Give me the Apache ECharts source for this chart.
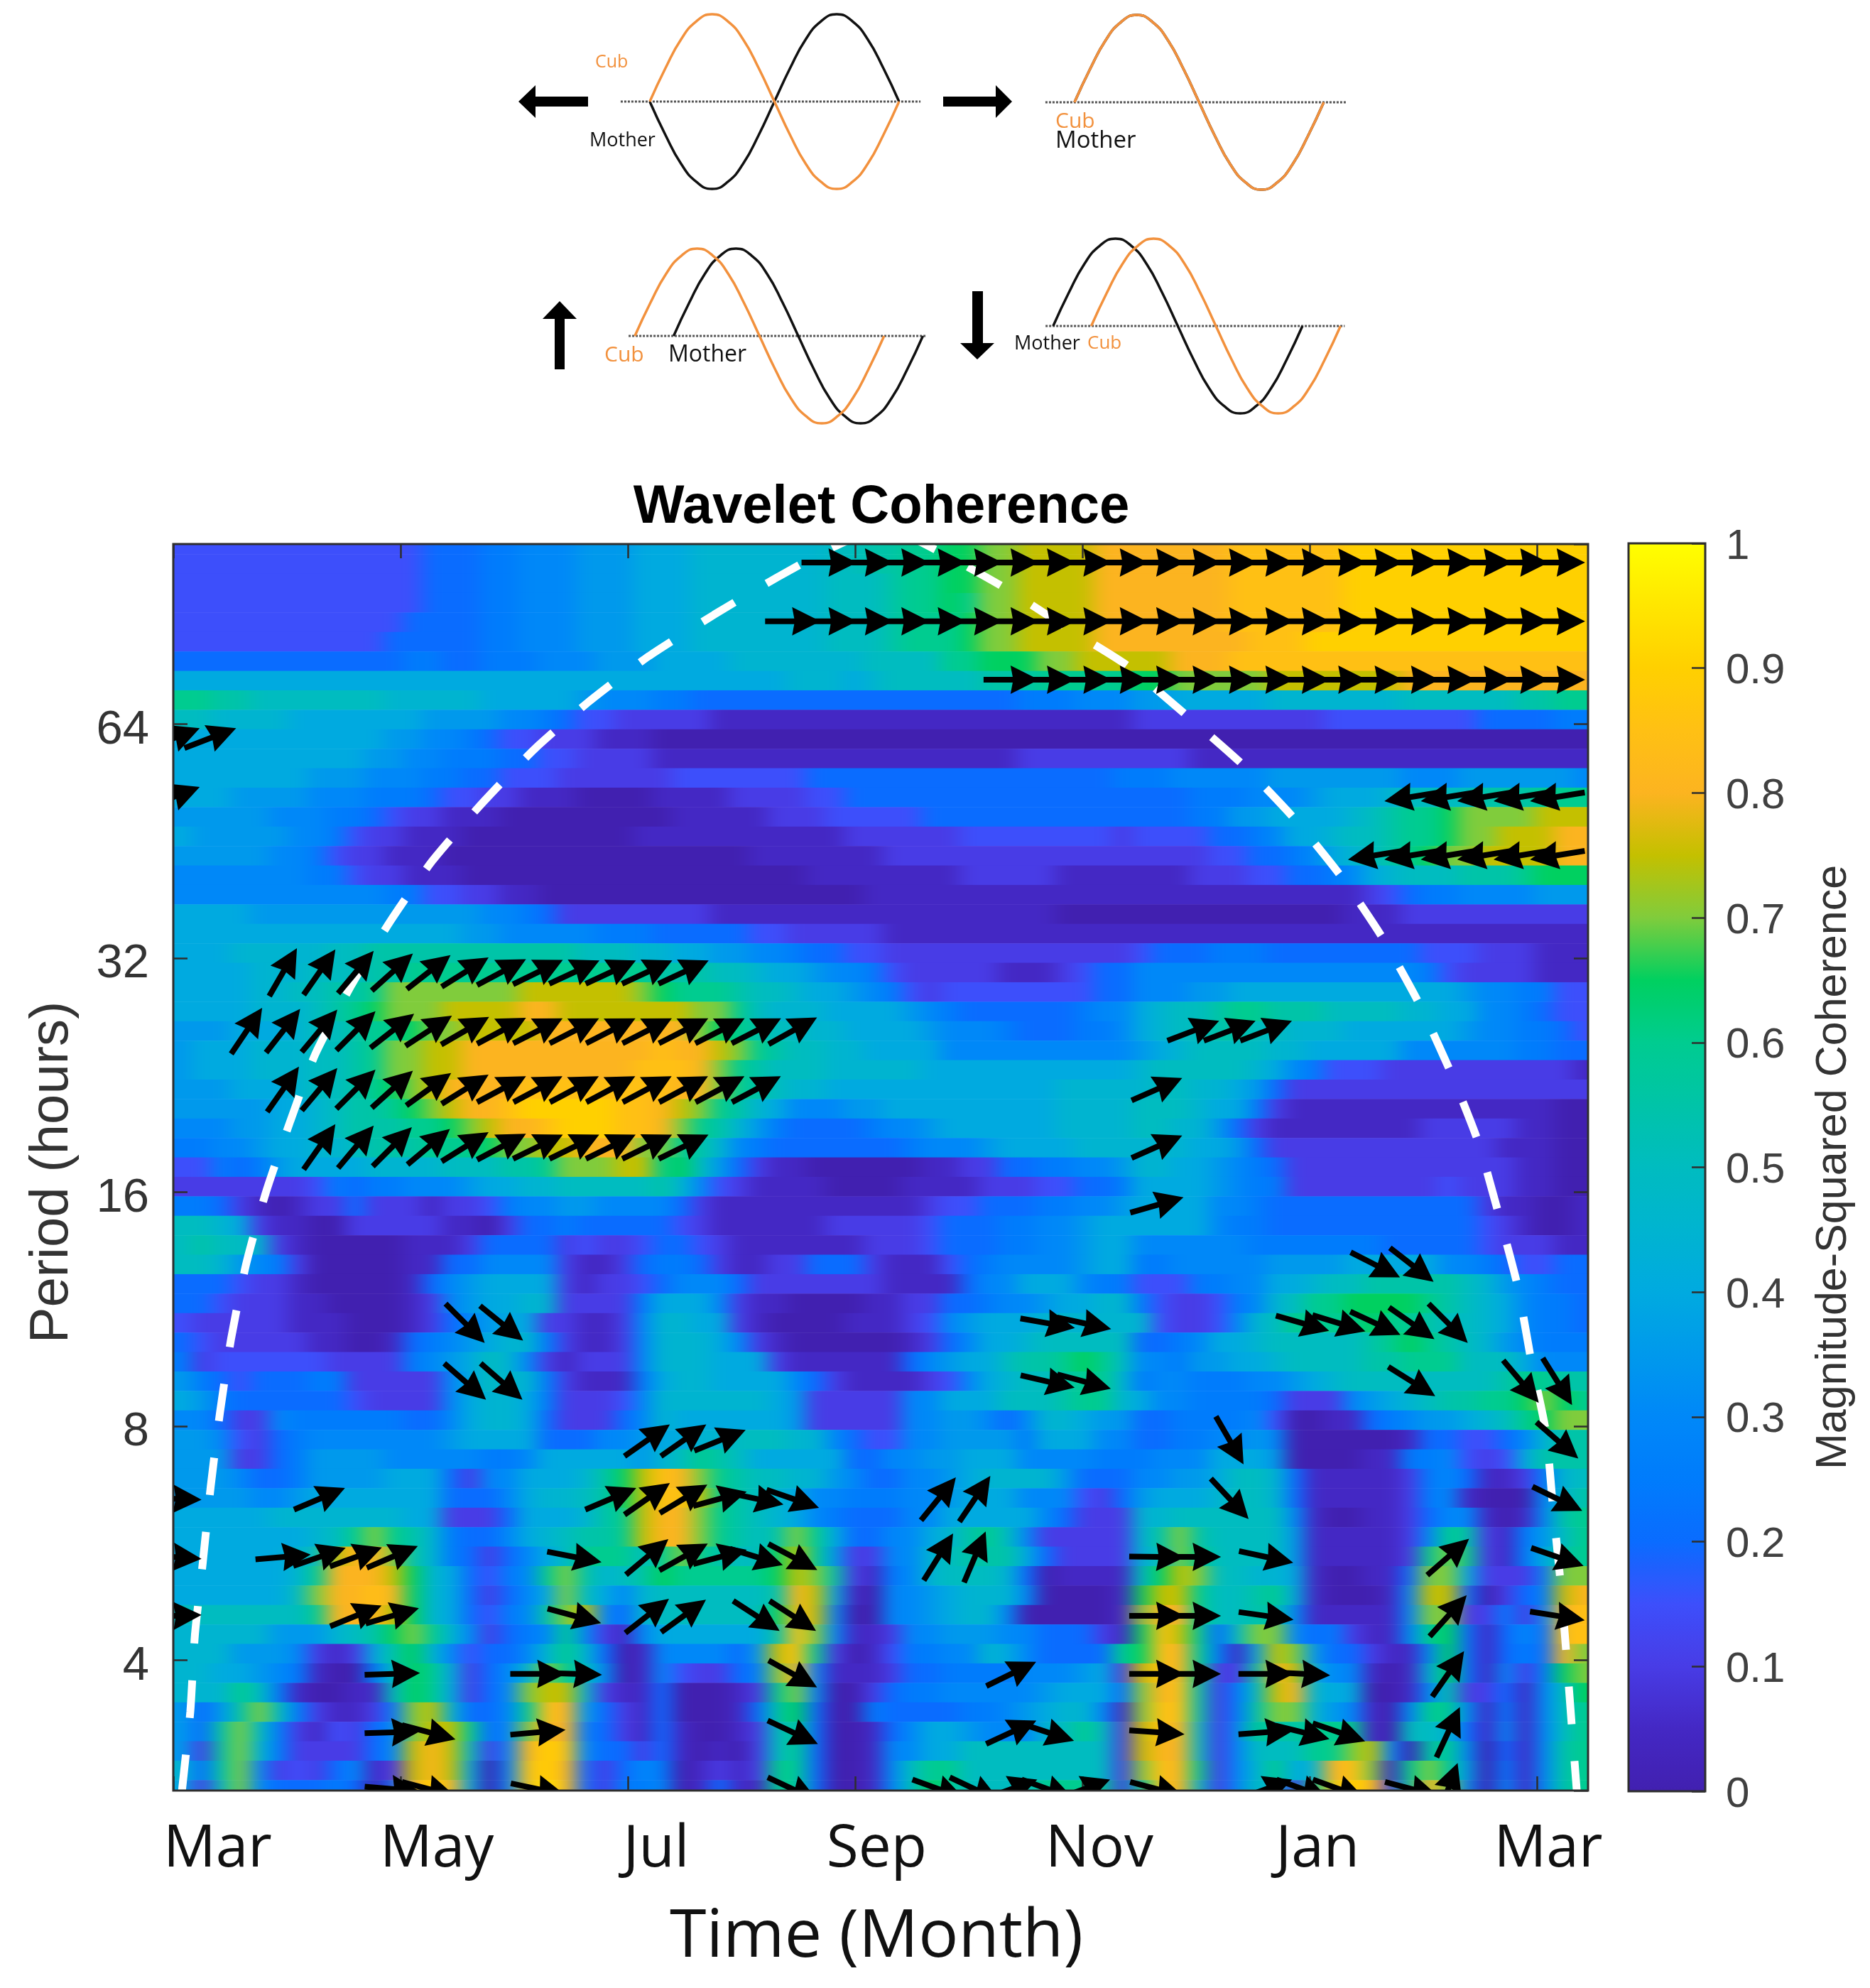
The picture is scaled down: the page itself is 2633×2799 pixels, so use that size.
<!DOCTYPE html>
<html><head><meta charset="utf-8">
<style>html,body{margin:0;padding:0;background:#fff}#c{width:2633px;height:2799px}</style>
<script src="https://cdn.jsdelivr.net/npm/echarts@6/dist/echarts.min.js"></script>
</head><body>
<svg width="0" height="0" style="position:absolute"><filter id="hb" x="0" y="0" width="100%" height="100%" color-interpolation-filters="sRGB"><feGaussianBlur stdDeviation="14 0"/></filter></svg>
<div id="c"></div>
<script>
// Coherence matrix: one text row per period band (top to bottom), one character per time column.
// 0-9 = tenths, a-j = tenths + 0.05
const coherenceRows = [
"bbbbbbbbbb bbb222cc33 3ddd444eee eeee55ff66 gg77hhhh88 88888iiiii i999999999 9999",
"bbbbbbbbbb bbb222cc33 3ddd444eee eeee55ff66 gg77hhhh88 88888iiiii i999999999 9999",
"bbbbbbbbbb bbb222cc33 3ddd444eee eeee555f66 gg77hhhh88 88888iiiii i999999999 9999",
"bbbbbbbbbb bbb222cc33 3ddd444eee eeee555f66 g677hhhh88 88888iiiii i999999999 9999",
"bbbbbbbbbb bb2222cc33 3ddd444eee eeee555f66 6g77hhhh88 88888iiiii i999999999 9999",
"bbbbbbbbbb b22222cc33 3ddd444eee eeee555f66 6g77hhhh88 888888iii9 9999999999 9999",
"2222222222 22cc22ccc3 33ddd4444e eeeeee5555 66ggg77hhh hh888iiiii iiiiiiiiii iiii",
"4444444444 4444444444 4444444444 44eee4e555 55fff66666 gg77777hhh hhhh888888 8888",
"66ff555555 5eeeee4444 4d333cc222 2222222222 2222ccc333 dd44444eee eeee555555 ff66",
"55eeee4444 444dddd33c 2bb11111aa aaaaaaaaaa aaaaaaaaaa 1111111111 bbbbbbbb22 22cc",
"4444444444 4dd33c2bb1 11aaa00000 0000000000 0000000000 0000000000 0000000000 0000",
"4444444444 dd33ccc22b b1111aaaaa aaaaaaaaaa aaaa111111 111aaaaaaa aaaaaaaaaa aaaa",
"4444444ddd 333cc22bbb 111111bbbb bbb2222222 222222222c cc33333ddd dddd333ddd ddd3",
"444dddd333 ccc2bb11aa a0000aaaa1 111bb22222 2222222222 222ccc333d 444e5555ff f666",
"ddddd333cc 2b11aaa000 000000aaaa a111bbbbb2 2222222222 222ccdd444 4e5f66g777 7hhh",
"4ddddd33cb 11aaa00000 0000aaaaaa aaaaa11111 1bbbbbbbb1 bbbb22c344 e55f66g77h hh88",
"ddddd33cb1 1aaa000000 0000000000 aaaaaaa111 1111111111 1111bb22c3 4e5f6g77hh hh88",
"3333333ccb 11aaa00000 0000000000 000aaaaaaa a11111aaaa aaa111bb22 c34e555fff 6ggg",
"3333333333 3ccbb11aa0 0000000000 000000aaaa aaaaaaaaaa aaaaaaaaaa aa1b2cc333 3ddd",
"4444dddddd dddddd33c2 11111111aa aaaaaaaaaa aaaaaa0000 0000000000 0aaa111111 1111",
"4444444444 44444dd333 33ccc22222 bb11111aaa aaaaaaaaaa aaaaaaaaaa aaaaaaaaaa aaaa",
"444eeeee55 ffffffffff f555ee44dd 33c22bb111 1111111111 b222ccc222 22222bbb11 1aaa",
"4444eee555 ff66666666 66666fff55 e44d33cb11 111aaa1b22 3333333333 33333cb111 1aaa",
"4444ee55ff 67777777hh hhhh7g666f 55e44d3cb1 bbbbbbbb22 333dd44444 4444444d33 ccbb",
"4444eee5f6 g777hhhh88 hhhhhhh776 5eee4444d3 c222222c33 4e55f66fff 5555ee4433 c2bb",
"ddd444e55f 66g77hhhh8 88888887g6 f55ee4444d 333c222cc3 4e55ff55ee e444444d33 cc2b",
"d444eee55f 677hh88888 88888i88h7 6f55ee4444 3333333333 d4e5555ee4 4444333333 cc22",
"d444eee55f 677hh88888 8888iii876 f555eeeee4 4444444444 e55555e43c bbb1111111 111a",
"ddd444e55f 6g7h8888ii iiiiii8876 f5ee444444 444444eeee e55ee4d211 1111111111 1111",
"ddddd44e5f f6g7h88i99 999ii8h76f e4333dd444 444444eeee 555e44c1aa aaaaaaaaaa aa00",
"333dd44e5f ff66g7h88i 999ii876fe dc2222c33d 444444eeee 55eed21aaa aaaaa11111 aa00",
"cc33d44ee5 fff666g77h h888776fe3 c2222222c3 33d4444eee eee44d2111 111111111a aa00",
"bbc2cd4444 eeee555ff6 777hh6g5d2 1aa000000a a1122cc33d ee44d3c211 1111111111 aa00",
"1111111bc2 cc333d44ee 55555fe3b1 aaaa0000aa aa111bb22c 4444d3cc11 111111b111 aa00",
"cc21a0a112 111a11bc33 dd333321aa aaaaaaaaa1 bb222cc33d 444433c222 222222221a a00a",
"55e41aa001 1111aa0122 c22222b1aa aaaa11111b 222cc33d44 44443cc222 22222222b1 a00a",
"5f55e1a000 00aaa12222 1b11b22b1a aaaaaa111b 222cc33d44 333333cccc ccc22222b1 11aa",
"55ed3c1000 00aa223333 1aa12cc21a a112221aaa b2c3333d44 cc33333ddd d4444433c2 bb22",
"222b11a000 00a23d4444 1a11b23332 1111111aaa a2334443cc bbbcc3344e 55fffff5ed 3c22",
"22b111aa00 00a13d44ee 1111c44431 aa0000aa11 22c33d44ee cb11bc3e56 6gggg6f5e4 3cc2",
"b11111aaa0 00a123d441 1aa13ee441 a0000aaa1b 3d444eeeee eb11b3e566 66g66f55e4 3cc2",
"2b11111aa0 0a2c3d4eec 1aa13eee43 1a000000a1 2344e55555 22c344e555 55f6g6f5ed 3ccc",
"c1bbbbbb11 11c3d45e31 a1113eee44 41aaaaaa23 d445ff6g65 33cdd44e55 55ff666555 4333",
"dc2b222cc1 1111345eec 1aaac4ee44 44321aaaa1 b34e55f66e c33ccc33d4 e55555555f 66ff",
"4dc222222b 111134ee4c 111b3eeeee e4d1111133 444555f66e 433cccc211 13d4e5ff66 g7g6",
"332113cccc cc2234ee42 11123e4444 44d1111133 dd323ee4dd 22cccc3b00 aa2c3dd4e5 6g77",
"dd3b12c333 3333d44442 2233d44ee5 55ee32bb33 ddddc44433 22cc33d300 0000a22bb2 3eff",
"ddd112cddd d33333cc34 4444de56f5 444442233d d4443333cc c333444d00 00aacc3b1b 4fff",
"ddd322cddd d444213344 4efghi876f 55eed32233 d4eeeed222 33dd455e2a aaaa1c32aa 1ce5",
"dddd33d444 444422234e e5fghiih6f 5e433ccc33 d444333b12 d444e55e2a aaaa1c3a00 03ef",
"44444eeeee ee44111244 4ef6h8876f 5e43c22233 4444432111 ee5555553a 00aa1233a0 a3f6",
"4444444e56 76fec2234e 5ff6h8876f 5f76422334 ef65311111 ef7f5555da aaaa136f1a cd56",
"444444e5h8 87fec21234 56665676f5 5gh6d1133e 5fff421111 e576555 5da aaaa16761a c4f6",
"444444e688 8hge42bc36 7fe5fg6666 6gh7f1ac3e 555e20aaaa 5gh755ee4a 00aa277411 1c77",
"4444445788 i8ge421234 7543e55555 5f8h4a033d 4eee30000a ghh655f64a 000a3hh201 2ch8",
"5555555688 8hge42bc3f 7h32e55555 5g8h30033d 4ee300000a 788655ff3a aaaa37711c 138i",
"eeeeeddde5 fg76e312c3 631a344444 4fi73aa133 ddd332221a gih6257732 c1aa36g2a2 32ii",
"eeeddd31a1 4fge3b223e 6e20a33332 dhi610abcc 33e4322226 gi86ca4h7d 221aa3g2a2 c287",
"ee44d3ca00 c5g64123e7 6530a3b112 c783aaa122 cccc333d41 hi8611f8h4 33a0a4g2a3 1cg7",
"eee65ca00a a5g641237h he1aa2000a 16730012cc 33333d4442 78if1c5h8e 4400a3f112 a35g",
"d2df75c1aa 1c7he2236i 8d21a2000a 2fg200c222 2cc3d4ee3a 7iif1cf77e d3a03663ac a356",
"d2f75c1ab1 237hh62378 8c21a2a00a 156200a234 4d333e5651 hi85136ff6 66a055e2a3 a356",
"d1f7ec1111 23h8h51389 i32212a0a0 156200a334 4555555551 h885135556 67h30f6302 a3f6",
"e2f731b123 a1h8h403i9 82123c0a1a 166200a356 6555555551 7i8613e64e 8i7a676d0c a3f6",
"4157322 2c2 02898403ij 821cc30a2a a66200a35g 6555566661 6i85135e16 i9i1687303 a3f6"
];
const parula = ['#4120b0','#4428c4','#483ce6','#3d4ffb','#0a6cff','#007cfc','#0088f8','#0099ec','#00aae0','#00b4d0','#00bcc0','#00c4a8','#00cc90','#00d060','#80cc3c','#c4c000','#fcb420','#ffc014','#ffd000','#ffe600','#ffff00'];

// Month axis
const monthTicks = [0,2,4,6,8,10,12];
const monthNames = ['Mar','May','Jul','Sep','Nov','Jan','Mar'];
const monthLabelAt = [0.39,2.32,4.25,6.19,8.15,10.07,12.10];
const periodTicks = [4,8,16,32,64];

// Cone of influence
const coiMonths = [0.05,0.08,0.15,0.19,0.26,0.33,0.41,0.51,0.64,0.81,1.03,1.25,1.56,1.91,2.28,2.72,3.18,3.66,4.18,4.76,5.31,5.81,6.26,6.71,7.29,7.91,8.39,8.92,9.41,9.86,10.28,10.64,10.96,11.24,11.48,11.66,11.83,11.95,12.08,12.14,12.21,12.26,12.31,12.35,12.37];
const coiLog2Hours = [1.30,1.459,1.781,2.106,2.419,2.745,3.055,3.377,3.69,3.991,4.304,4.59,4.878,5.158,5.416,5.663,5.894,6.097,6.289,6.468,6.626,6.757,6.84,6.745,6.59,6.398,6.252,6.036,5.827,5.599,5.347,5.088,4.809,4.514,4.219,3.912,3.599,3.28,2.973,2.66,2.322,2.021,1.699,1.447,1.30];

// Phase arrows: [period (hours), [time step, angle (deg), time step, angle, ...]]
const timeStepMonths = 0.3204;
const arrowRows = [
[103.3,[18,0,19,0,20,0,21,0,22,0,23,0,24,0,25,0,26,0,27,0,28,0,29,0,30,0,31,0,32,0,33,0,34,0,35,0,36,0,37,0,38,0]],
[86.8,[17,0,18,0,19,0,20,0,21,0,22,0,23,0,24,0,25,0,26,0,27,0,28,0,29,0,30,0,31,0,32,0,33,0,34,0,35,0,36,0,37,0,38,0]],
[73,[23,0,24,0,25,0,26,0,27,0,28,0,29,0,30,0,31,0,32,0,33,0,34,0,35,0,36,0,37,0,38,0]],
[61.4,[0,21,1,21]],
[51.6,[0,21,34,189,35,189,36,189,37,189,38,189]],
[43.4,[33,189,34,189,35,189,36,189,37,189,38,189]],
[30.7,[3,60,4,55,5,50,6,42,7,38,8,32,9,28,10,26,11,25,12,25,13,25,14,25]],
[25.8,[2,56,3,52,4,50,5,45,6,38,7,33,8,30,9,28,10,27,11,27,12,27,13,27,14,27,15,27,16,27,17,29,28,21,29,21,30,21]],
[21.7,[3,55,4,50,5,45,6,42,7,36,8,32,9,28,10,28,11,28,12,28,13,28,14,28,15,28,16,28,27,24]],
[18.3,[4,55,5,50,6,45,7,40,8,32,9,28,10,26,11,26,12,26,13,26,14,26,27,24]],
[15.4,[27,16]],
[12.9,[33,-27,34,-38]],
[10.85,[8,-45,9,-39,24,-10,25,-12,31,-16,32,-17,33,-25,34,-35,35,-45]],
[9.13,[8,-41,9,-41,24,-13,25,-15,34,-32,37,-50,38,-58]],
[7.67,[13,35,14,35,15,22,29,-60,38,-41]],
[6.45,[0,-2,4,23,12,23,13,35,14,31,15,15,16,-12,17,-19,21,51,22,56,29,-47,38,-26]],
[5.43,[0,-4,3,5,4,19,5,20,6,23,11,-11,13,40,14,29,15,15,16,-17,17,-28,21,58,22,67,27,-1,28,0,30,-12,35,41,38,-19]],
[4.56,[0,2,5,22,6,16,11,-15,13,38,14,36,16,-33,17,-33,27,0,28,0,30,-8,35,48,38,-9]],
[3.84,[6,2,10,0,11,-2,17,-29,23,26,27,0,28,0,30,0,31,-3,35,55]],
[3.23,[6,2,7,-15,10,5,17,-25,23,25,24,-18,27,-4,30,4,31,-14,32,-19,35,65]],
[2.73,[6,-5,7,-15,10,-12,17,-25,21,-20,22,-25,23,20,24,-20,25,20,27,-15,30,20,31,-20,32,-20,34,-15,35,70]]
];

// Schematic sine waves
const phaseDeg = [0,22.5,45,67.5,90,112.5,135,157.5,180,202.5,225,247.5,270,292.5,315,337.5,360];
const waveValue = [0,0.38,0.71,0.92,1,0.92,0.71,0.38,0,-0.38,-0.71,-0.92,-1,-0.92,-0.71,-0.38,0];
const panelMotherShift = [0,0,56,0];
const panelCubShift = [0,0,0,55];
const panelMotherSign = [-1,1,1,1];
const panelBaseline = [[-42,391],[-42,393],[-9,421],[-11,421]];

const cols = 74, pad = 2;
const heatData = [];
coherenceRows.forEach(function(r,y){
  const s = r.replace(/ /g,'');
  const vals = [];
  for (let i=0;i<cols;i++){
    const c = s[Math.min(i,s.length-1)];
    const h = 'abcdefghij'.indexOf(c);
    vals.push(h>=0 ? (h+0.5)/10 : (+c)/10);
  }
  for (let i=-pad;i<cols+pad;i++){
    heatData.push([i+pad,y,vals[Math.max(0,Math.min(cols-1,i))]]);
  }
});
const xCats = []; for(let i=0;i<cols+2*pad;i++) xCats.push(String(i));
const yCats = coherenceRows.map(function(_,i){return String(i)});

const arrowData = [];
arrowRows.forEach(function(r){
  for(let i=0;i<r[1].length;i+=2) arrowData.push([0.005+r[1][i]*timeStepMonths, r[0], r[1][i+1]]);
});
const coiData = coiMonths.map(function(m,i){return [m,Math.pow(2,coiLog2Hours[i])]});

const FRAME='#2e2e2e', SANS='"Liberation Sans"', OPEN='"Open Sans"';
const grids=[
 {left:244-27*pad,top:753,width:27*(cols+2*pad),height:65*27.4,zlevel:0},
 {left:244,top:766,width:1992,height:1755,show:true,borderColor:FRAME,borderWidth:3,backgroundColor:'transparent',zlevel:1,z:5},
 {left:2293,top:765,width:108,height:1757,show:true,borderColor:FRAME,borderWidth:3,backgroundColor:'transparent',zlevel:1,z:5}
];
const panelLeft=[871,1469,850,1439], panelTop=[20,21,350,336];
panelLeft.forEach(function(l,i){grids.push({left:l,top:panelTop[i],width:475*0.975,height:246,zlevel:1})});

const noLine={show:false,onZero:false};
const mainTick={show:true,inside:true,length:20,lineStyle:{color:FRAME,width:2.5}};
const xAxes=[
 {type:'category',gridIndex:0,data:xCats,show:false,zlevel:0},
 {type:'value',gridIndex:1,position:'bottom',min:0,max:12.45,zlevel:1,z:6,splitLine:{show:false},
  axisLine:noLine,axisTick:Object.assign({customValues:monthTicks},mainTick),
  axisLabel:{customValues:monthLabelAt,hideOverlap:false,margin:43,color:'#111',fontFamily:OPEN,fontSize:82,
    formatter:function(v){return monthNames[monthLabelAt.indexOf(v)]||''}},
  name:'Time (Month)',nameLocation:'middle',nameGap:160,nameTextStyle:{fontFamily:OPEN,fontSize:93.5,color:'#111',padding:[0,12,0,0]}},
 {type:'value',gridIndex:1,position:'top',min:0,max:12.45,zlevel:1,z:6,splitLine:{show:false},
  axisLine:noLine,axisTick:Object.assign({customValues:monthTicks},mainTick),axisLabel:{show:false}},
 {type:'value',gridIndex:2,show:false,min:0,max:1,zlevel:1}
];
const yAxes=[
 {type:'category',gridIndex:0,data:yCats,inverse:true,show:false,zlevel:0},
 {type:'log',logBase:2,gridIndex:1,position:'left',min:2.718,max:109.1,splitNumber:5,zlevel:1,z:6,splitLine:{show:false},minorTick:{show:false},
  axisLine:noLine,axisTick:mainTick,
  axisLabel:{margin:34,color:'#333',fontFamily:SANS,fontSize:67,verticalAlign:'top',lineHeight:18,showMinLabel:false,showMaxLabel:false,hideOverlap:false,
    formatter:function(v){const n=Math.round(v);return periodTicks.indexOf(n)>=0&&Math.abs(v-n)<0.01?String(n):''}},
  name:'Period (hours)',nameLocation:'middle',nameGap:132,nameRotate:90,nameTextStyle:{fontFamily:SANS,fontSize:76,color:'#333',padding:[0,14,0,0]}},
 {type:'log',logBase:2,gridIndex:1,position:'right',min:2.718,max:109.1,splitNumber:5,zlevel:1,z:6,splitLine:{show:false},minorTick:{show:false},
  axisLine:noLine,axisTick:mainTick,axisLabel:{show:false}},
 {type:'value',gridIndex:2,position:'right',min:0,max:1,interval:0.1,zlevel:1,z:6,splitLine:{show:false},
  axisLine:noLine,axisTick:{show:true,inside:true,length:19,lineStyle:{color:FRAME,width:2.5}},
  axisLabel:{margin:29,color:'#404040',fontFamily:SANS,fontSize:60,verticalAlign:'top',lineHeight:10,hideOverlap:false,showMinLabel:true,showMaxLabel:true},
  name:'Magnitude-Squared Coherence',nameLocation:'middle',nameGap:151,nameRotate:90,nameTextStyle:{fontFamily:SANS,fontSize:61,color:'#333'}}
];
panelLeft.forEach(function(_,i){
  xAxes.push({type:'value',gridIndex:3+i,show:false,min:-45,max:430,zlevel:1});
  yAxes.push({type:'value',gridIndex:3+i,show:false,min:-1,max:1,zlevel:1});
});

const series=[
 {type:'heatmap',xAxisIndex:0,yAxisIndex:0,data:heatData,zlevel:0,progressive:0,silent:true,itemStyle:{borderWidth:0},emphasis:{disabled:true}},
 {type:'line',xAxisIndex:1,yAxisIndex:1,data:coiData,zlevel:1,z:3,symbol:'none',silent:true,smooth:0.2,
  lineStyle:{color:'#fff',width:11,type:[53,52],dashOffset:60,cap:'butt'}},
 {type:'scatter',xAxisIndex:1,yAxisIndex:1,data:arrowData,zlevel:2,z:4,silent:true,progressive:0,
  symbol:'path://M20 0L40 40L24 37L24 78L16 78L16 37L0 40Z',symbolSize:[40,78],
  symbolRotate:function(v){return v[2]-90},itemStyle:{color:'#000',opacity:1}}
];
panelLeft.forEach(function(_,i){
  const ax=3+i+1;
  series.push({type:'line',xAxisIndex:ax,yAxisIndex:ax,zlevel:1,symbol:'none',silent:true,clip:false,
    data:[[panelBaseline[i][0],0],[panelBaseline[i][1],0]],lineStyle:{color:'#555',width:3,type:[3,2]}});
  series.push({type:'line',xAxisIndex:ax,yAxisIndex:ax,zlevel:1,z:3,symbol:'none',silent:true,clip:false,smooth:true,
    data:phaseDeg.map(function(p,k){return [p+panelMotherShift[i],panelMotherSign[i]*waveValue[k]]}),lineStyle:{color:'#111',width:3.5}});
  series.push({type:'line',xAxisIndex:ax,yAxisIndex:ax,zlevel:1,z:4,symbol:'none',silent:true,clip:false,smooth:true,
    data:phaseDeg.map(function(p,k){return [p+panelCubShift[i],waveValue[k]]}),lineStyle:{color:'#f2913d',width:3.5}});
});

function label(t,x,y,size,color){return {type:'text',x:x,y:y,zlevel:1,z:10,silent:true,style:{text:t,fontFamily:OPEN,fontSize:size,fill:color,textAlign:'left',textVerticalAlign:'middle'}}}
function poly(pts){return {type:'polygon',zlevel:1,z:10,silent:true,shape:{points:pts},style:{fill:'#000'}}}
const graphics=[
 label('Cub',838,88,25,'#f2913d'),label('Mother',830,198,27,'#111'),
 label('Cub',1486,171,30,'#f2913d'),label('Mother',1486,199,33,'#111'),
 label('Cub',851,500,30,'#f2913d'),label('Mother',941,500,32,'#111'),
 label('Mother',1428,484,27,'#111'),label('Cub',1531,484,26,'#f2913d'),
 poly([[730,143],[754,120],[754,136],[828,136],[828,150],[754,150],[754,166]]),
 poly([[1425,143],[1402,120],[1402,136],[1328,136],[1328,150],[1402,150],[1402,166]]),
 poly([[788,424],[812,449],[795,449],[795,520],[781,520],[781,449],[764,449]]),
 poly([[1376,506],[1352,483],[1369,483],[1369,410],[1384,410],[1384,483],[1400,483]])
];

const chart=echarts.init(document.getElementById('c'),null,{renderer:'canvas',width:2633,height:2799});
chart.setOption({
 animation:false,backgroundColor:'transparent',
 title:{text:'Wavelet Coherence',left:1236,top:672,textAlign:'center',zlevel:1,textStyle:{fontFamily:SANS,fontWeight:'bold',fontSize:76,color:'#000'}},
 grid:grids,xAxis:xAxes,yAxis:yAxes,series:series,graphic:{elements:graphics},
 visualMap:{type:'continuous',min:0,max:1,seriesIndex:0,left:2293,top:765,padding:0,itemWidth:108,itemHeight:1757,calculable:false,text:['',''],
   hoverLink:false,zlevel:1,z:1,inRange:{color:parula},textStyle:{fontSize:1}}
});
const clipInset='inset(767px 398px 279px 245px)';
const base=document.querySelector('canvas[data-zr-dom-id="zr_0"]');
if(base){base.style.filter='url(#hb)';base.style.clipPath=clipInset;}
const arrows=document.querySelector('canvas[data-zr-dom-id="zr_2"]');
if(arrows){arrows.style.clipPath=clipInset;}
</script>
</body></html>
